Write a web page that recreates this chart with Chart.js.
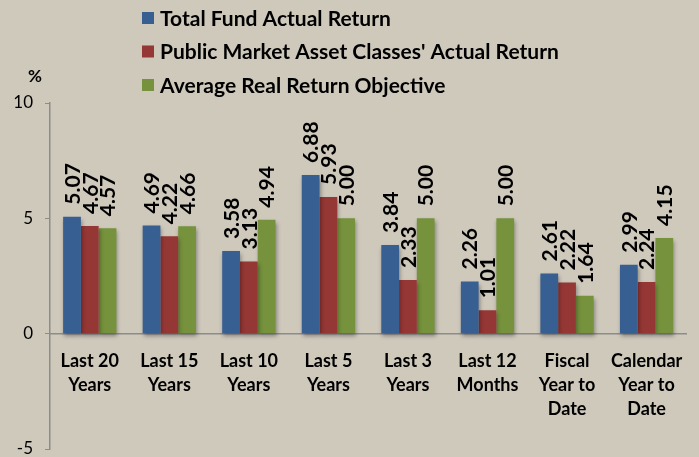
<!DOCTYPE html>
<html>
<head>
<meta charset="utf-8">
<script src="https://cdn.jsdelivr.net/npm/chart.js@4.4.1/dist/chart.umd.min.js"></script>
<style>
  body { margin: 0; background: #cfc9bc; }
  #wrap { width: 699px; height: 457px; }
</style>
</head>
<body>
<div id="wrap"><canvas id="chart" width="699" height="457"></canvas></div>
<script>
// Returns by period, in percent
const categories = [
    ['Last 20', 'Years'],
    ['Last 15', 'Years'],
    ['Last 10', 'Years'],
    ['Last 5', 'Years'],
    ['Last 3', 'Years'],
    ['Last 12', 'Months'],
    ['Fiscal', 'Year to', 'Date'],
    ['Calendar', 'Year to', 'Date']
];
const totalFund = [5.07, 4.69, 3.58, 6.88, 3.84, 2.26, 2.61, 2.99];
const publicMarket = [4.67, 4.22, 3.13, 5.93, 2.33, 1.01, 2.22, 2.24];
const realObjective = [4.57, 4.66, 4.94, 5.00, 5.00, 5.00, 1.64, 4.15];
const seriesNames = [
    'Total Fund Actual Return',
    "Public Market Asset Classes' Actual Return",
    'Average Real Return Objective'
];
const yTicks = [-5, 0, 5, 10];

const FONT = 'Lato, "Open Sans", sans-serif';
const colors = ['#375f92', '#953735', '#76923c'];

// soft drop shadow under the bars
const barShadow = {
    id: 'barShadow',
    beforeDatasetsDraw(chart) {
        const ctx = chart.ctx;
        ctx.save();
        ctx.shadowColor = 'rgba(0, 0, 0, 0.35)';
        ctx.shadowBlur = 4;
        ctx.shadowOffsetX = 1;
        ctx.shadowOffsetY = 3;
    },
    afterDatasetsDraw(chart) {
        chart.ctx.restore();
    }
};

// vertical value labels above each bar
const valueLabels = {
    id: 'valueLabels',
    afterDatasetsDraw(chart) {
        const ctx = chart.ctx;
        ctx.save();
        ctx.font = 'bold 21px ' + FONT;
        ctx.fillStyle = '#000';
        ctx.textAlign = 'left';
        ctx.textBaseline = 'middle';
        chart.data.datasets.forEach((ds, i) => {
            const meta = chart.getDatasetMeta(i);
            meta.data.forEach((bar, j) => {
                ctx.save();
                ctx.translate(bar.x, bar.y - 12);
                ctx.rotate(-Math.PI / 2);
                ctx.fillText(ds.data[j].toFixed(2), 0, 1);
                ctx.restore();
            });
        });
        ctx.restore();
    }
};

// stacked legend at the top plus the "%" unit label
const sideLegend = {
    id: 'sideLegend',
    afterDraw(chart) {
        const ctx = chart.ctx;
        ctx.save();
        ctx.font = 'bold 21px ' + FONT;
        ctx.textBaseline = 'middle';
        ctx.textAlign = 'left';
        chart.data.datasets.forEach((ds, i) => {
            const y = 18 + i * 33.5;
            ctx.fillStyle = ds.backgroundColor;
            ctx.fillRect(142, y - 6, 12, 12);
            ctx.fillStyle = '#000';
            ctx.fillText(ds.label, 160, y + 1);
        });
        ctx.font = 'bold 17px ' + FONT;
        ctx.textAlign = 'center';
        ctx.fillText('%', 35, 77);
        ctx.restore();
    }
};

new Chart(document.getElementById('chart'), {
    type: 'bar',
    data: {
        labels: categories,
        datasets: [
            { label: seriesNames[0], data: totalFund, backgroundColor: colors[0] },
            { label: seriesNames[1], data: publicMarket, backgroundColor: colors[1] },
            { label: seriesNames[2], data: realObjective, backgroundColor: colors[2] }
        ]
    },
    options: {
        responsive: false,
        animation: false,
        layout: { padding: { top: 103, right: 12, bottom: 8, left: 0 } },
        datasets: {
            bar: { categoryPercentage: 0.67, barPercentage: 1.0 }
        },
        plugins: {
            legend: { display: false },
            tooltip: { enabled: false }
        },
        scales: {
            x: {
                position: { y: 0 },
                grid: { display: false, drawTicks: false },
                border: { display: true, color: '#8c8c8c', width: 1.5 },
                ticks: {
                    color: '#000',
                    font: { family: FONT, size: 18, weight: 'bold', lineHeight: 1.33 },
                    padding: 16,
                    maxRotation: 0,
                    autoSkip: false
                }
            },
            y: {
                min: -5,
                max: 10,
                afterFit(scale) {
                    // fixed axis width; let layout padding decide top and bottom
                    scale.width = 50;
                    scale.paddingTop = 0;
                    scale.paddingBottom = 0;
                },
                afterBuildTicks(scale) { scale.ticks = yTicks.map(v => ({ value: v })); },
                grid: {
                    drawOnChartArea: false,
                    drawTicks: true,
                    tickLength: 5,
                    color: '#8c8c8c'
                },
                border: { display: true, color: '#8c8c8c', width: 1.5 },
                ticks: {
                    color: '#000',
                    font: { family: FONT, size: 17 },
                    padding: 12
                }
            }
        }
    },
    plugins: [barShadow, valueLabels, sideLegend]
});
</script>
</body>
</html>
